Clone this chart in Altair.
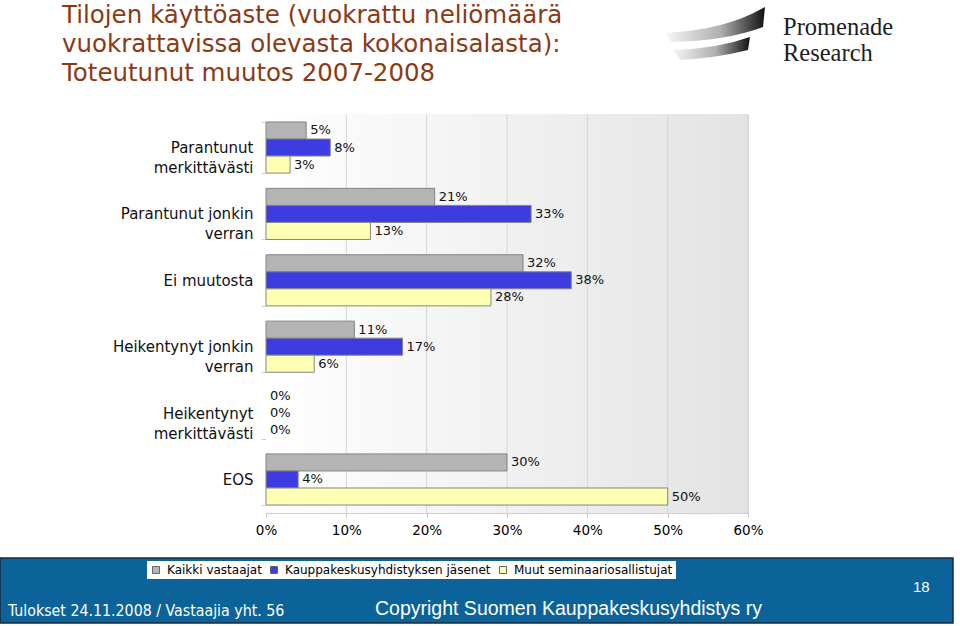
import json
import altair as alt
import pandas as pd

# ---------------- data ----------------
categories = [
    "Parantunut merkittävästi",
    "Parantunut jonkin verran",
    "Ei muutosta",
    "Heikentynyt jonkin verran",
    "Heikentynyt merkittävästi",
    "EOS",
]
NB = "\u00a0"
label_lines = [
    ["Parantunut" + NB * 2, "merkittävästi"],
    ["Parantunut jonkin", "verran" + NB * 7],
    ["Ei muutosta"],
    ["Heikentynyt jonkin", "verran" + NB * 7],
    ["Heikentynyt" + NB, "merkittävästi"],
    ["EOS"],
]
series = ["Kaikki vastaajat", "Kauppakeskusyhdistyksen jäsenet", "Muut seminaariosallistujat"]
kaikki = [5, 21, 32, 11, 0, 30]
jasenet = [8, 33, 38, 17, 0, 4]
muut = [3, 13, 28, 6, 0, 50]
x_ticks = [0, 10, 20, 30, 40, 50, 60]

title_lines = [
    "Tilojen käyttöaste (vuokrattu neliömäärä",
    "vuokrattavissa olevasta kokonaisalasta):",
    "Toteutunut muutos 2007-2008",
]
logo_lines = ["Promenade", "Research"]
footer_left = "Tulokset 24.11.2008 / Vastaajia yht. 56"
footer_mid = "Copyright Suomen Kauppakeskusyhdistys ry"
page_no = "18"

colors = ["#b4b4b4", "#3c3ce0", "#ffffb4"]
FONT = "DejaVu Sans"

rows = []
for s, vals in zip(series, [kaikki, jasenet, muut]):
    for c, v in zip(categories, vals):
        rows.append({"kategoria": c, "sarja": s, "arvo": v})
df = pd.DataFrame(rows)

W, H = 482, 399
PL, PT = 266, 114

label_expr = ""
for c, lines in zip(categories, label_lines):
    label_expr += f"datum.label == {json.dumps(c, ensure_ascii=False)} ? {json.dumps(lines, ensure_ascii=False)} : "
label_expr += "datum.label"

xscale = alt.Scale(domain=[0, 60], nice=False, zero=True)
yscale = alt.Scale(domain=categories, paddingInner=0.23, paddingOuter=0.12)

x_axis = alt.Axis(
    title=None, values=x_ticks, labelExpr="datum.value + '%'", grid=False,
    tickSize=4, tickColor="#c8c8c8", domainColor="#cfcfcf", labelFontSize=13.5,
    labelPadding=6, labelFont=FONT, labelColor="#000000", labelFlush=False,
    labelOverlap=False,
)
y_axis = alt.Axis(
    title=None, labelExpr=label_expr, labelAlign="right", labelBaseline="middle",
    labelFontSize=15, labelLineHeight=20, labelPadding=8, tickBand="extent",
    tickSize=5, tickColor="#d0d0d0", domainColor="#d0d0d0", labelColor="#111111",
    labelFont=FONT, labelLimit=300,
)

one = alt.Data(values=[{}])

# plot background with gradient
bg = alt.Chart(one).mark_rect(
    fill={"gradient": "linear", "x1": 0, "y1": 0, "x2": 1, "y2": 0,
          "stops": [{"offset": 0, "color": "#ffffff"}, {"offset": 1, "color": "#e3e3e3"}]},
).encode(x=alt.value(0), x2=alt.value(W), y=alt.value(0), y2=alt.value(H))

grid = alt.Chart(pd.DataFrame({"t": x_ticks[1:]})).mark_rule(color="#d6d6d6", strokeWidth=1).encode(
    x=alt.X("t:Q", scale=xscale, axis=x_axis)
)

enc_y = alt.Y("kategoria:N", scale=yscale, sort=categories, axis=y_axis)
enc_yo = alt.YOffset("sarja:N", sort=series, scale=alt.Scale(domain=series, paddingInner=0, paddingOuter=0))

bars = alt.Chart(df).transform_filter("datum.arvo > 0").mark_bar(
    stroke="#858585", strokeWidth=1
).encode(
    x=alt.X("arvo:Q", scale=xscale, axis=x_axis),
    y=enc_y,
    yOffset=enc_yo,
    fill=alt.Fill(
        "sarja:N", sort=series, scale=alt.Scale(domain=series, range=colors),
        legend=alt.Legend(
            title=None, orient="none", legendX=147 - PL, legendY=561 - PT,
            direction="horizontal", fillColor="#ffffff", padding=3,
            symbolType="square", symbolSize=49, symbolStrokeColor="#666666",
            symbolStrokeWidth=1, labelFontSize=12, labelFont=FONT, labelOffset=5,
            columnPadding=6, labelColor="#000000", labelLimit=400,
        ),
    ),
)

labels = alt.Chart(df).transform_calculate(lbl="datum.arvo + '%'").mark_text(
    align="left", baseline="middle", dx=4, fontSize=13, font=FONT, color="#111111"
).encode(
    x=alt.X("arvo:Q", scale=xscale, axis=x_axis),
    y=enc_y,
    yOffset=enc_yo,
    text="lbl:N",
)

title = alt.Chart(one).mark_text(
    text=title_lines, align="left", baseline="alphabetic", fontSize=24.5, lineHeight=29,
    color="#8b3a16", font=FONT,
).encode(x=alt.value(62 - PL), y=alt.value(23 - PT))

grad = {"gradient": "linear", "x1": 0, "y1": 0, "x2": 1, "y2": 0,
        "stops": [{"offset": 0, "color": "#f6f6f6"}, {"offset": 0.55, "color": "#b0b0b0"},
                  {"offset": 1, "color": "#111111"}]}

swoosh1 = alt.Chart(one).mark_point(
    shape="M -1 -0.04 Q 0.2 -0.1 0.98 -0.56 L 0.94 -0.16 Q 0.2 0.12 -0.92 0.14 Z",
    filled=True, opacity=1, strokeWidth=0, fill=grad,
).encode(x=alt.value(716 - PL), y=alt.value(35 - PT), size=alt.value(10000))

swoosh2 = alt.Chart(one).mark_point(
    shape="M -0.86 0.3 Q 0 0.28 0.68 0.04 L 0.64 0.3 Q 0 0.46 -0.72 0.5 Z",
    filled=True, opacity=1, strokeWidth=0, fill=grad,
).encode(x=alt.value(716 - PL), y=alt.value(35 - PT), size=alt.value(10000))

logo = alt.Chart(one).mark_text(
    text=logo_lines, align="left", baseline="alphabetic", fontSize=24.5, lineHeight=25.5,
    color="#1e1e1e", font="Liberation Serif",
).encode(x=alt.value(783 - PL), y=alt.value(35 - PT))

footer = alt.Chart(one).mark_rect(fill="#0b6399", stroke="#1d2b3e", strokeWidth=1.5).encode(
    x=alt.value(0 - PL), x2=alt.value(953 - PL), y=alt.value(558 - PT), y2=alt.value(623 - PT)
)

f_left = alt.Chart(one).mark_text(
    text=footer_left, align="left", baseline="alphabetic", fontSize=15.8,
    font="Liberation Sans Narrow, DejaVu Sans Condensed, Liberation Sans", color="#ffffff",
).encode(x=alt.value(8 - PL), y=alt.value(616 - PT))

f_mid = alt.Chart(one).mark_text(
    text=footer_mid, align="left", baseline="alphabetic", fontSize=19.5,
    font="Liberation Sans", color="#ffffff",
).encode(x=alt.value(375 - PL), y=alt.value(615 - PT))

f_page = alt.Chart(one).mark_text(
    text=page_no, align="left", baseline="alphabetic", fontSize=15,
    font="Liberation Sans", color="#ffffff",
).encode(x=alt.value(913 - PL), y=alt.value(592 - PT))

chart = alt.layer(
    bg, grid, bars, labels, title, swoosh1, swoosh2, logo, footer, f_left, f_mid, f_page
).properties(
    width=W, height=H,
    autosize=alt.AutoSizeParams(type="none"),
    padding={"left": PL, "top": PT, "right": 960 - PL - W, "bottom": 626 - PT - H},
    background="#ffffff",
).configure_view(stroke="#d8d8d8").configure_axis(labelFont=FONT)

chart.save("out.html", embed_options={"renderer": "svg", "actions": False})
